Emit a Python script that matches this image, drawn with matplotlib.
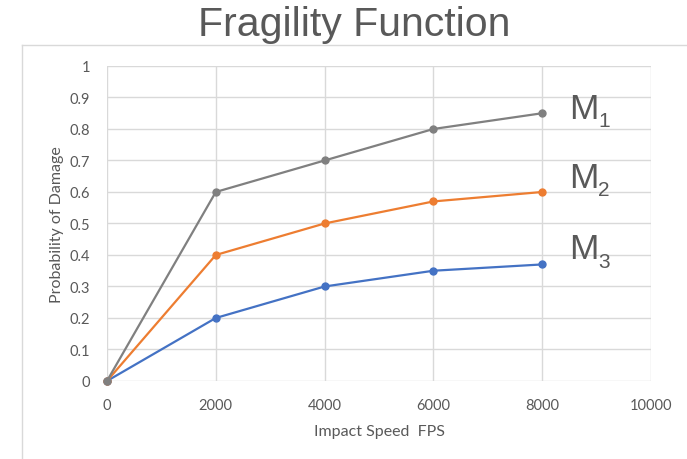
import numpy as np
from matplotlib import pyplot as plt
from matplotlib.lines import Line2D

# values
speed = [0, 2000, 4000, 6000, 8000]
m1 = [0, 0.6, 0.7, 0.8, 0.85]
m2 = [0, 0.4, 0.5, 0.57, 0.6]
m3 = [0, 0.2, 0.3, 0.35, 0.37]
series_names = ['1', '2', '3']
x_ticks = [0, 2000, 4000, 6000, 8000, 10000]
y_ticks = [0, 0.1, 0.2, 0.3, 0.4, 0.5, 0.6, 0.7, 0.8, 0.9, 1]
y_tick_labels = ['0', '0.1', '0.2', '0.3', '0.4', '0.5', '0.6', '0.7', '0.8', '0.9', '1']

text_col = '#595959'
grid_col = '#d9d9d9'

fig = plt.figure(figsize=(6.87, 4.6), dpi=100)
ax = fig.add_axes([0.1557, 0.1696, 0.792, 0.6848])

# outer chart frame (left and top edges only visible)
fig.add_artist(Line2D([0.032, 0.032], [0, 0.9], transform=fig.transFigure, color=grid_col, lw=1))
fig.add_artist(Line2D([0.032, 1], [0.9, 0.9], transform=fig.transFigure, color=grid_col, lw=1))

colors = ['#808080', '#ED7D31', '#4472C4']
data = [m1, m2, m3]
for vals, col, z in zip(data[::-1], colors[::-1], [3, 4, 5]):
    ax.plot(speed, vals, color=col, lw=1.6, marker='o', markersize=5, zorder=z, clip_on=False)

# series labels next to the last point (vertical offsets in points)
label_dy = [-3.6, 3.6, 4.3]
for vals, name, dy in zip(data, series_names, label_dy):
    ax.annotate('M', (speed[-1], vals[-1]), xytext=(19, dy), textcoords='offset points',
                fontsize=25.5, color=text_col, family='Liberation Sans', va='baseline', ha='left')
    ax.annotate(name, (speed[-1], vals[-1]), xytext=(40.5, dy - 5.8), textcoords='offset points',
                fontsize=15, color=text_col, family='Liberation Sans', va='baseline', ha='left')

ax.set_xlim(0, 10000)
ax.set_ylim(0, 1)
ax.set_xticks(x_ticks)
ax.set_yticks(y_ticks)
ax.set_yticklabels(y_tick_labels)
ax.grid(True, color=grid_col, lw=1)
ax.set_axisbelow(True)
for s in ax.spines.values():
    s.set_visible(False)
ax.tick_params(length=0, labelsize=10.5, labelcolor=text_col, pad=12)
for lbl in ax.get_xticklabels() + ax.get_yticklabels():
    lbl.set_family('Lato')

ax.set_xlabel('Impact Speed  FPS', fontsize=11.5, color=text_col, family='Lato', labelpad=9)
ax.set_ylabel('Probability of Damage', fontsize=11.5, color=text_col, family='Lato', labelpad=4)

fig.text(0.515, 1 - 36 / 460, 'Fragility Function', ha='center', va='baseline', fontsize=29.5,
         color=text_col, family='Liberation Sans')

fig.savefig('out.png', dpi=100)
